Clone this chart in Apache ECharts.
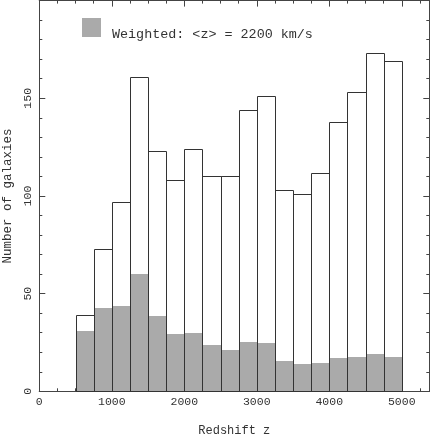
<!DOCTYPE html>
<html>
<head>
<meta charset="utf-8">
<script src="https://cdn.jsdelivr.net/npm/echarts@6/dist/echarts.min.js"></script>
<style>
html,body{margin:0;padding:0;background:#fff;}
#chart{width:431px;height:436px;}
</style>
</head>
<body>
<div id="chart"></div>
<script>
// Histogram bin edges (km/s)
const binEdges = [500, 750, 1000, 1250, 1500, 1750, 2000, 2250, 2500, 2750,
                  3000, 3250, 3500, 3750, 4000, 4250, 4500, 4750, 5000];
// Total number of galaxies per bin (open bars)
const allCounts = [39, 73, 97, 161, 123, 108, 124, 110, 110, 144,
                   151, 103, 101, 112, 138, 153, 173, 169];
// Weighted counts per bin (grey bars)
const weightedCounts = [31, 42.5, 43.5, 60, 38.8, 29.3, 29.8, 23.5, 21.3, 25.3,
                        24.5, 15.5, 14.1, 14.5, 17, 17.7, 18.9, 17.5];
const legendLabel = 'Weighted: <z> = 2200 km/s';
const xTitle = 'Redshift z';
const yTitle = 'Number of galaxies';

const FONT = '"Liberation Mono", "DejaVu Sans Mono", monospace';
const AXIS_COLOR = '#444';
const TEXT_COLOR = '#333';
const GREY = '#aaaaaa';

function toRows(values) {
  return values.map((v, i) => [binEdges[i], binEdges[i + 1], v]);
}

function makeRender(filled) {
  return function (params, api) {
    const p0 = api.coord([api.value(0), api.value(2)]);
    const p1 = api.coord([api.value(1), 0]);
    let x0 = Math.round(p0[0]), x1 = Math.round(p1[0]);
    let y0 = Math.round(p0[1]), y1 = Math.round(p1[1]);
    if (filled) {
      return {
        type: 'rect',
        shape: { x: x0, y: y0, width: x1 - x0, height: y1 - y0 },
        style: { fill: GREY, stroke: null }
      };
    }
    return {
      type: 'rect',
      shape: { x: x0 + 0.5, y: y0 + 0.5, width: x1 - x0, height: y1 - y0 },
      style: { fill: 'none', stroke: '#333', lineWidth: 1 }
    };
  };
}

const plain = v => String(v);
const X_MAX = 5380;
const baseX = {
  type: 'value', min: 0, max: X_MAX,
  splitLine: { show: false },
  axisLine: { show: true, onZero: false, lineStyle: { color: AXIS_COLOR, width: 1 } }
};
function xAxisDef(position, interval, tickLen, showLabel) {
  return Object.assign({}, baseX, {
    position: position,
    interval: interval,
    axisTick: { show: true, inside: true, length: tickLen, lineStyle: { color: AXIS_COLOR } },
    axisLabel: { show: showLabel, showMaxLabel: false, margin: 5, formatter: plain,
      fontFamily: FONT, fontSize: 11.5, color: TEXT_COLOR }
  });
}
const xAxes = [
  Object.assign(xAxisDef('bottom', 1000, 6, true), {
    name: xTitle, nameLocation: 'middle', nameGap: 34,
    nameTextStyle: { fontFamily: FONT, fontSize: 12, color: TEXT_COLOR }
  }),
  xAxisDef('bottom', 250, 3, false),
  xAxisDef('top', 1000, 6, false),
  xAxisDef('top', 250, 3, false)
];

function yAxisDef(position, showLabel) {
  return {
    type: 'value', min: 0, max: 200, interval: 50, position: position,
    splitLine: { show: false },
    axisLine: { show: true, onZero: false, lineStyle: { color: AXIS_COLOR, width: 1 } },
    axisTick: { show: true, inside: true, length: 6, lineStyle: { color: AXIS_COLOR } },
    minorTick: { show: true, splitNumber: 5, length: 3, lineStyle: { color: AXIS_COLOR } },
    axisLabel: { show: showLabel, rotate: 90, margin: 5, showMaxLabel: false, formatter: plain,
      fontFamily: FONT, fontSize: 11.5, color: TEXT_COLOR }
  };
}
const yAxes = [
  Object.assign(yAxisDef('left', true), {
    name: yTitle, nameLocation: 'middle', nameGap: 25,
    nameTextStyle: { fontFamily: FONT, fontSize: 12.5, color: TEXT_COLOR }
  }),
  yAxisDef('right', false)
];

const chart = echarts.init(document.getElementById('chart'), null, { renderer: 'canvas' });
chart.setOption({
  animation: false,
  backgroundColor: '#fff',
  grid: { left: 39.3, right: 1.7, top: 0.6, bottom: 44.7, containLabel: false, outerBoundsMode: 'none' },
  legend: {
    data: [legendLabel],
    left: 82, top: 18, padding: 0,
    icon: 'rect', itemWidth: 19, itemHeight: 19,
    selectedMode: false,
    formatter: name => '{t|' + name + '}',
    textStyle: {
      fontFamily: FONT, fontSize: 13.4, color: TEXT_COLOR,
      rich: { t: { fontFamily: FONT, fontSize: 13.4, color: TEXT_COLOR, padding: [13, 0, 0, 6] } }
    }
  },
  xAxis: xAxes,
  yAxis: yAxes,
  series: [
    {
      name: legendLabel, type: 'custom', xAxisIndex: 0, yAxisIndex: 0,
      itemStyle: { color: GREY },
      renderItem: makeRender(true),
      encode: { x: [0, 1], y: 2 },
      data: toRows(weightedCounts)
    },
    {
      name: 'All', type: 'custom', xAxisIndex: 0, yAxisIndex: 0,
      itemStyle: { color: '#333' },
      renderItem: makeRender(false),
      encode: { x: [0, 1], y: 2 },
      data: toRows(allCounts)
    }
  ]
});
</script>
</body>
</html>
